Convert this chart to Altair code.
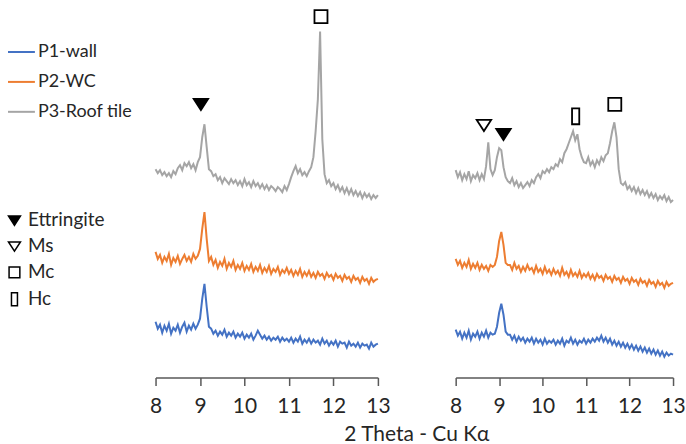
import altair as alt
import pandas as pd

# 2-theta sampling grid (degrees)
two_theta = [round(8 + 0.05 * i, 2) for i in range(101)]

samples = ["P1-wall", "P2-WC", "P3-Roof tile"]
sample_colors = ["#4472C4", "#ED7D31", "#A5A5A5"]

# intensities (a.u., vertically offset patterns) - left panel
p1_left = [47, 40, 44, 36, 43, 38, 45, 35, 41, 38,
           44, 36, 42, 46, 37, 43, 39, 45, 40, 44,
           50, 70, 85, 62, 42,
           40, 35, 38, 33, 37, 34, 39, 32, 36, 33,
           37, 31, 35, 32, 36, 30, 34, 31, 35, 29,
           33, 38, 34, 30, 33, 29, 32, 28, 31, 29,
           32, 27, 31, 28, 30,
           27, 31, 26, 30, 27, 32, 25, 29, 26, 30,
           25, 29, 26, 28, 24, 30, 25, 28, 23, 27,
           24, 28, 22, 27, 25, 26, 21, 27, 23, 25,
           22, 26, 21, 25, 23, 24, 20, 26, 22, 24, 25]
p2_left = [117, 110, 114, 106, 112, 108, 115, 104, 111, 107,
           113, 105, 110, 114, 108, 112, 107, 115, 110, 113,
           120, 140, 157, 130, 108,
           112, 104, 109, 101, 107, 103, 110, 100, 106, 102,
           108, 99, 104, 100, 106, 98, 103, 99, 105, 97,
           102, 98, 104, 96, 101, 97, 103, 95, 100, 97,
           102, 94, 99, 96, 101,
           95, 99, 93, 98, 94, 100, 92, 97, 93, 98,
           92, 96, 91, 97, 93, 95, 90, 96, 92, 94,
           89, 95, 91, 93, 88, 94, 90, 92, 87, 93,
           89, 91, 86, 92, 88, 90, 85, 91, 87, 89, 90]
p3_left = [200, 196, 199, 194, 197, 193, 196, 192, 198, 195,
           201, 204, 199, 206, 203, 207, 201, 205, 199, 207,
           212, 232, 245, 222, 200,
           198, 193, 195, 189, 192, 186, 191, 188, 185, 190,
           186, 189, 184, 188, 183, 190, 184, 187, 182, 188,
           183, 186, 181, 185, 180, 184, 179, 183, 181, 178,
           182, 180, 177, 183, 179,
           185, 192, 198, 203, 196, 200, 194, 197, 193, 198,
           202, 212, 238, 270, 338, 230, 195, 186, 189, 183,
           186, 180, 184, 178, 182, 176, 181, 175, 180, 174,
           178, 173, 177, 171, 176, 172, 175, 170, 174, 171, 174]

# right panel
p1_right = [39, 33, 37, 30, 36, 31, 38, 29, 35, 32,
            37, 30, 36, 32, 38, 31, 36, 34, 35, 42,
            56, 65, 54, 37, 34,
            34, 29, 33, 27, 32, 28, 31, 26, 30, 27,
            31, 25, 30, 26, 29, 24, 30, 25, 28, 26,
            29, 24, 28, 25, 30, 23, 28, 26, 31, 25,
            29, 24, 28, 26, 30,
            25, 29, 26, 30, 27, 31, 28, 33, 27, 31,
            26, 30, 24, 28, 23, 27, 22, 26, 21, 25,
            20, 24, 19, 23, 18, 22, 17, 21, 16, 20,
            15, 19, 14, 18, 13, 17, 12, 16, 13, 15, 14]
p2_right = [110, 104, 108, 101, 106, 102, 109, 100, 105, 101,
            106, 99, 104, 100, 103, 98, 104, 102, 104, 112,
            128, 137, 124, 106, 104,
            104, 99, 106, 100, 103, 97, 102, 98, 104, 99,
            101, 96, 103, 97, 100, 95, 102, 96, 99, 94,
            100, 95, 98, 93, 101, 94, 97, 92, 99, 93,
            96, 92, 98, 91, 95,
            92, 96, 90, 94, 89, 95, 91, 93, 88, 94,
            90, 92, 87, 93, 89, 91, 86, 92, 88, 90,
            85, 91, 87, 89, 84, 90, 86, 88, 83, 89,
            85, 87, 82, 88, 84, 86, 81, 87, 83, 85, 86]
p3_right = [199, 192, 197, 189, 195, 190, 198, 188, 194, 191,
            196, 189, 195, 190, 203, 227, 200, 194, 199, 212,
            221, 219, 202, 192, 188,
            186, 191, 184, 188, 182, 186, 181, 184, 187, 183,
            189, 186, 192, 195, 191, 198, 196, 200, 197, 202,
            200, 205, 203, 210, 207, 216, 220, 226, 232, 238,
            229, 235, 220, 212, 207,
            206, 212, 204, 208, 202, 209, 205, 212, 208, 214,
            216, 226, 238, 247, 232, 200, 186, 184, 187, 180,
            183, 178, 182, 176, 181, 175, 179, 174, 178, 172,
            176, 171, 175, 169, 173, 170, 174, 168, 172, 167, 169]

# phase markers
phases = ["Ettringite", "Ms", "Mc", "Hc"]
left_marker_phase = ["Ettringite", "Mc"]
left_marker_theta = [9.02, 11.72]
left_marker_int = [265, 353]
right_marker_phase = ["Ms", "Ettringite", "Hc", "Mc"]
right_marker_theta = [8.65, 9.10, 10.76, 11.66]
right_marker_int = [244, 235, 253, 265]

FONT = "Lato"
TEXT = "#262626"

tri = "M-1,-0.75L1,-0.75L0,0.8Z"
sq = "M-0.9,-0.9L0.9,-0.9L0.9,0.9L-0.9,0.9Z"
rect = "M-0.5,-1.1L0.5,-1.1L0.5,1.1L-0.5,1.1Z"


def long_df(series):
    rows = []
    for name, vals in zip(samples, series):
        for t, v in zip(two_theta, vals):
            rows.append({"two_theta": t, "intensity": v, "sample": name})
    return pd.DataFrame(rows)


def panel(series, mk_phase, mk_theta, mk_int, width, first):
    df = long_df(series)
    mk = pd.DataFrame({"phase": mk_phase, "two_theta": mk_theta, "intensity": mk_int})
    axis = alt.Axis(values=[8, 9, 10, 11, 12, 13], grid=False, tickSize=8,
                    tickWidth=1.5, domainWidth=1.5, domainColor="#595959",
                    tickColor="#595959", labelFont=FONT, labelFontSize=21,
                    labelColor=TEXT, labelPadding=10, labelFlush=False)
    xs = alt.Scale(domain=[8, 13], nice=False, zero=False)
    ys = alt.Scale(domain=[-9, 362], nice=False, zero=False)
    if first:
        color_legend = alt.Legend(orient="none", legendX=-149, legendY=30, title=None,
                                  symbolType="stroke", symbolSize=729,
                                  symbolStrokeWidth=2, labelFont=FONT,
                                  labelFontSize=18, labelColor=TEXT,
                                  labelOffset=2, rowPadding=6, padding=0)
        shape_legend = alt.Legend(orient="none", legendX=-151, legendY=204, title=None,
                                  symbolSize=144, symbolStrokeWidth=1.5,
                                  labelFont=FONT, labelFontSize=19, labelColor=TEXT,
                                  labelOffset=4, rowPadding=6, padding=0)
    else:
        color_legend = None
        shape_legend = None
    x = alt.X("two_theta:Q", scale=xs, axis=axis, title=None)
    y = alt.Y("intensity:Q", scale=ys, axis=None)

    color = alt.Color("sample:N", scale=alt.Scale(domain=samples, range=sample_colors),
                      legend=color_legend)
    shape = alt.Shape("phase:N", scale=alt.Scale(domain=phases, range=[tri, tri, sq, rect]),
                      legend=shape_legend)
    fill = alt.Fill("phase:N", scale=alt.Scale(domain=phases,
                                               range=["black", "white", "white", "white"]),
                    legend=shape_legend)
    stroke = alt.Stroke("phase:N", scale=alt.Scale(domain=phases,
                                                   range=["black", "black", "black", "black"]),
                        legend=shape_legend)

    lines = alt.Chart(df).mark_line(strokeWidth=2).encode(x=x, y=y, color=color)
    pts = alt.Chart(mk).mark_point(strokeWidth=1.8, opacity=1,
                                   fillOpacity=1, size=210).encode(
        x=x, y=y, shape=shape, fill=fill, stroke=stroke)
    return alt.layer(lines, pts).properties(width=width, height=371)


left = panel([p1_left, p2_left, p3_left], left_marker_phase, left_marker_theta,
             left_marker_int, 223, True)
right = panel([p1_right, p2_right, p3_right], right_marker_phase, right_marker_theta,
              right_marker_int, 218, False)

chart = alt.hconcat(left, right, spacing=58).resolve_scale(
    color="independent", shape="independent", fill="independent", stroke="independent"
).resolve_legend(
    color="independent", shape="independent", fill="independent", stroke="independent"
).properties(
    padding={"left": 5, "top": 5, "right": 0, "bottom": 0},
    background="white",
    title=alt.TitleParams("2 Theta - Cu Kα", orient="bottom", anchor="middle",
                          dx=72, offset=8, font=FONT, fontSize=21,
                          fontWeight="normal", color=TEXT)
).configure_view(strokeWidth=0, stroke="transparent")

chart.save("out.html", embed_options={"renderer": "svg", "actions": False})
